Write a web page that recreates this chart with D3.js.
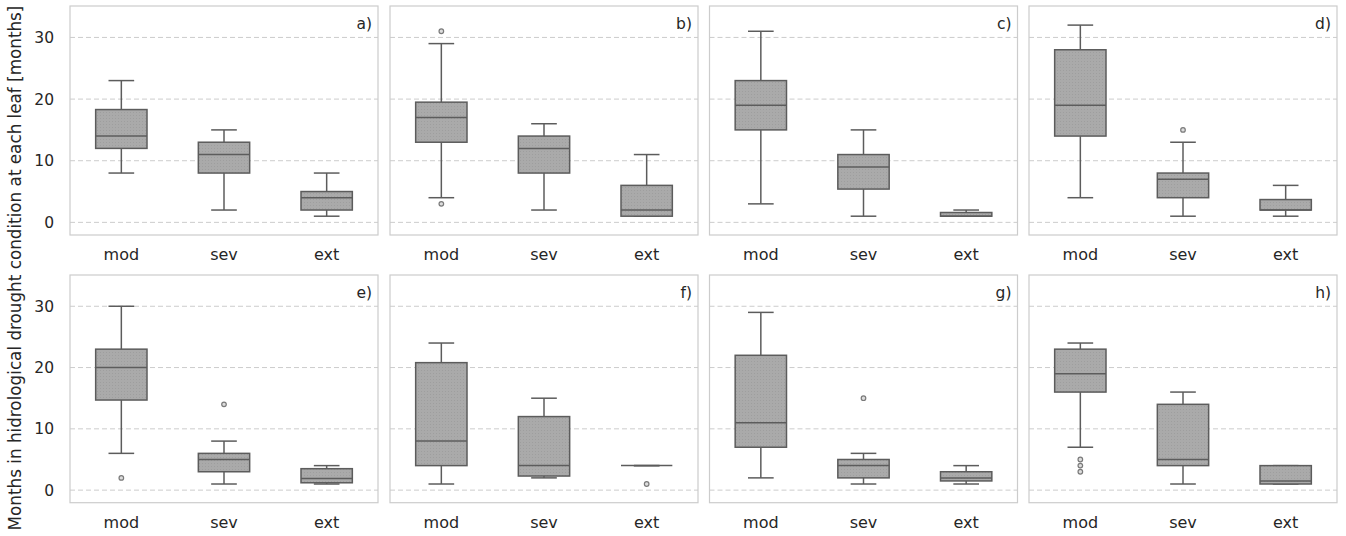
<!DOCTYPE html>
<html lang="en">
<meta charset="UTF-8">
<title>Months in hydrological drought</title>
<style>
  body { margin: 0; background: #fff; }
  text { font-family: "DejaVu Sans", sans-serif; fill: #262626; }
</style>
<body>
<script src="https://cdnjs.cloudflare.com/ajax/libs/d3/7.8.5/d3.min.js"></script>
<script>

// data, one row per panel (a..h), columns = mod, sev, ext
var panels = ["a)", "b)", "c)", "d)", "e)", "f)", "g)", "h)"];
var categories = ["mod", "sev", "ext"];
var yTicks = [0, 10, 20, 30];

var whiskLow = [[8, 2, 1], [4, 2, 1], [3, 1, 1], [4, 1, 1], [6, 1, 1], [1, 2, 4], [2, 1, 1], [7, 1, 1]];
var q1       = [[12, 8, 2], [13, 8, 1], [15, 5.4, 1], [14, 4, 2], [14.7, 3, 1.2], [4, 2.3, 4], [7, 2, 1.5], [16, 4, 1]];
var median   = [[14, 11, 4], [17, 12, 2], [19, 9, 1], [19, 7, 2], [20, 5, 1.9], [8, 4, 4], [11, 4, 2], [19, 5, 1.5]];
var q3       = [[18.3, 13, 5], [19.5, 14, 6], [23, 11, 1.6], [28, 8, 3.7], [23, 6, 3.5], [20.8, 12, 4], [22, 5, 3], [23, 14, 4]];
var whiskHigh= [[23, 15, 8], [29, 16, 11], [31, 15, 2], [32, 13, 6], [30, 8, 4], [24, 15, 4], [29, 6, 4], [24, 16, 4]];
var outliers = [[[], [], []], [[31, 3], [], []], [[], [], []], [[], [15], []],
                [[2], [14], []], [[], [], [1]], [[], [15], []], [[5, 4, 3], [], []]];

var W = 1346, H = 536;
var panelW = 308;
var colX = [70, 390, 709.5, 1029];
var rowY = [[6, 235], [275, 502.7]];

var svg = d3.select("body").append("svg")
    .attr("width", W).attr("height", H);

// stippled fill like the original
var pat = svg.append("defs").append("pattern")
    .attr("id", "stip").attr("patternUnits", "userSpaceOnUse")
    .attr("width", 3).attr("height", 3);
pat.append("rect").attr("width", 3).attr("height", 3).attr("fill", "#aaaaaa");
pat.append("rect").attr("x", 1).attr("y", 1).attr("width", 1).attr("height", 1).attr("fill", "#9e9e9e");

panels.forEach(function(lab, p) {
  var row = Math.floor(p / 4), col = p % 4;
  var x0 = colX[col], top = rowY[row][0], bot = rowY[row][1];

  var x = d3.scaleBand().domain(categories).range([x0, x0 + panelW]);
  var y = d3.scaleLinear().domain([-2.05, 35.1]).range([bot, top]);
  var g = svg.append("g");

  // grid
  g.selectAll("line.grid").data(yTicks).enter().append("line")
    .attr("x1", x0).attr("x2", x0 + panelW)
    .attr("y1", function(d) { return y(d); }).attr("y2", function(d) { return y(d); })
    .style("stroke", "#cccccc").style("stroke-width", 1)
    .style("stroke-dasharray", "5,3");

  // frame
  g.append("rect")
    .attr("x", x0).attr("y", top).attr("width", panelW).attr("height", bot - top)
    .style("fill", "none").style("stroke", "#cccccc").style("stroke-width", 1.2);

  // y ticks only in the first column
  if (col === 0) {
    var ya = d3.axisLeft(y).tickValues(yTicks).tickSize(0).tickPadding(16);
    var ax = svg.append("g").attr("transform", "translate(" + x0 + ",0)").call(ya);
    ax.select(".domain").remove();
    ax.selectAll("text").style("font-size", "15.5px").style("fill", "#262626");
  }

  // x ticks
  var xa = d3.axisBottom(x).tickSize(0).tickPadding(14);
  var axx = svg.append("g").attr("transform", "translate(0," + bot + ")").call(xa);
  axx.select(".domain").remove();
  axx.selectAll("text").style("font-size", "16px").style("fill", "#262626");

  // panel letter
  g.append("text")
    .attr("x", x0 + panelW - 6).attr("y", top + 23)
    .attr("text-anchor", "end")
    .style("font-size", "15.5px")
    .text(lab);

  var bw = x.bandwidth() * 0.5, cw = x.bandwidth() * 0.25;
  categories.forEach(function(c, i) {
    var cx = x(c) + x.bandwidth() / 2;
    var b = g.append("g").style("stroke", "#5c5c5c").style("stroke-width", 1.5);

    // whiskers
    b.append("line").attr("x1", cx).attr("x2", cx)
      .attr("y1", y(whiskHigh[p][i])).attr("y2", y(q3[p][i]));
    b.append("line").attr("x1", cx).attr("x2", cx)
      .attr("y1", y(whiskLow[p][i])).attr("y2", y(q1[p][i]));
    b.append("line").attr("x1", cx - cw / 2).attr("x2", cx + cw / 2)
      .attr("y1", y(whiskHigh[p][i])).attr("y2", y(whiskHigh[p][i]));
    b.append("line").attr("x1", cx - cw / 2).attr("x2", cx + cw / 2)
      .attr("y1", y(whiskLow[p][i])).attr("y2", y(whiskLow[p][i]));

    // box
    b.append("rect")
      .attr("x", cx - bw / 2).attr("width", bw)
      .attr("y", y(q3[p][i])).attr("height", Math.max(0, y(q1[p][i]) - y(q3[p][i])))
      .style("fill", "url(#stip)");

    // median
    b.append("line").attr("x1", cx - bw / 2).attr("x2", cx + bw / 2)
      .attr("y1", y(median[p][i])).attr("y2", y(median[p][i]));

    // fliers
    b.selectAll("circle").data(outliers[p][i]).enter().append("circle")
      .attr("cx", cx).attr("cy", function(d) { return y(d); })
      .attr("r", 2.3)
      .style("fill", "#dddddd").style("stroke", "#7a7a7a").style("stroke-width", 1.2);
  });
});

// shared y label
svg.append("text")
  .attr("transform", "translate(21," + 268 + ") rotate(-90)")
  .attr("text-anchor", "middle")
  .style("font-size", "16.8px")
  .text("Months in hidrological drought condition at each leaf [months]");

</script>
</body>
</html>
